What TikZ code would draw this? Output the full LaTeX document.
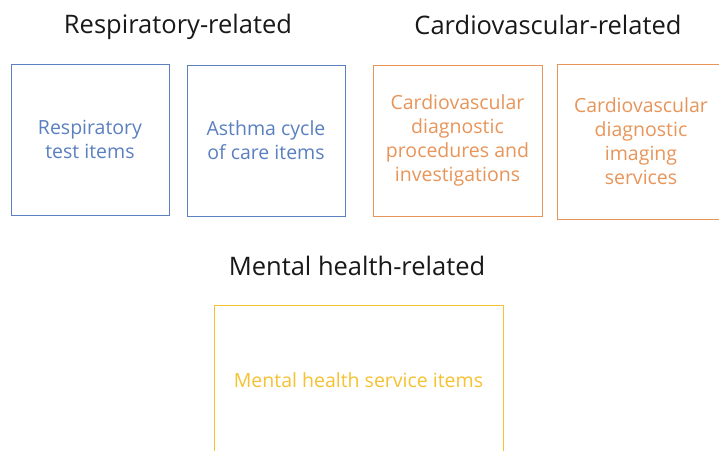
\documentclass[tikz,border=0pt]{standalone}
\usepackage{fontspec}
\setmainfont{Open Sans}
\usetikzlibrary{positioning}
\definecolor{respblue}{HTML}{5B80BF}
\definecolor{cardorange}{HTML}{E8955A}
\definecolor{mentyellow}{HTML}{F5C232}
\tikzset{
  heading/.style={font=\fontsize{25.5}{28}\selectfont, text=black!90},
  itembox/.style={draw, line width=0.8pt, align=center, inner sep=0pt,
    font=\fontsize{19.5}{24}\selectfont},
}
\begin{document}
\begin{tikzpicture}[x=1pt,y=-1pt]
\clip (0,0) rectangle (719,450);
\fill[white] (0,0) rectangle (719,450);
\node[heading](Hresp) at (178,27){Respiratory-related};
\node[heading](Hcard) at (548,25){Cardiovascular-related};
\node[heading](Hment) at (357,266){Mental health-related};
\node[itembox, draw=respblue, text=respblue, minimum width=158pt, minimum height=151pt](Rtest) at (90,139.5){Respiratory\\test items};
\node[itembox, draw=respblue, text=respblue, minimum width=158pt, minimum height=151pt](Rasth) at (266,140.5){Asthma cycle\\of care items};
\node[itembox, draw=cardorange, text=cardorange, minimum width=169pt, minimum height=151pt](Cproc) at (457.5,140.5){Cardiovascular\\diagnostic\\procedures and\\investigations};
\node[itembox, draw=cardorange, text=cardorange, minimum width=168pt, minimum height=155pt](Cimag) at (641,141.5){Cardiovascular\\diagnostic\\imaging\\services};
\node[itembox, draw=mentyellow, text=mentyellow, minimum width=289pt, minimum height=150pt](Mserv) at (358.5,380){Mental health service items};
\end{tikzpicture}
\end{document}
